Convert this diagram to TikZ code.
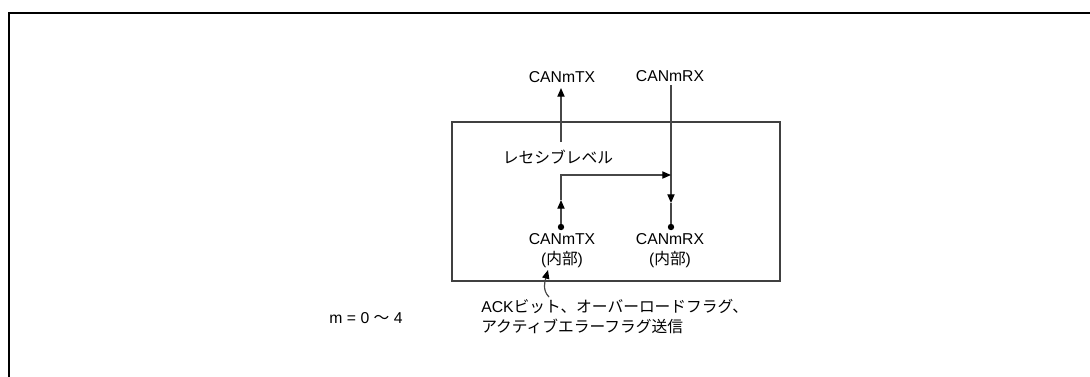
\documentclass[tikz,border=0pt]{standalone}
\usepackage{fontspec}
\setmainfont{Liberation Sans}
\newfontfamily\jp{Noto Sans CJK JP}
\usetikzlibrary{arrows.meta}
\begin{document}
\begin{tikzpicture}[x=0.75pt,y=-0.75pt,
  lbl/.style={inner sep=0pt,font=\fontsize{11.8}{15}\selectfont},
  wire/.style={draw=black!72,line width=0.9pt},
  tip/.style={-{Triangle[length=6.5pt,width=5.4pt,color=black]}},
  dotnode/.style={circle,fill=black,inner sep=0pt,minimum size=4.8pt}]
\useasboundingbox (0,0) rectangle (1090,376);
% outer frame (cropped)
\coordinate (frameBL) at (8.5,380);
\coordinate (frameTL) at (8.5,13);
\coordinate (frameTR) at (1094,13);
\draw[line width=1.5pt] (frameBL) -- (frameTL) -- (frameTR);
% inner box
\node[draw=black!75,line width=0.9pt,minimum width=246pt,minimum height=119.25pt,inner sep=0pt] (box) at (616,201.5) {};
% labels
\node[lbl] (txout) at (562,77) {CANmTX};
\node[lbl] (rxin) at (670,76) {CANmRX};
\node[lbl] (rec) at (558,157) {\jp レセシブレベル};
\node[dotnode] (txdot) at (561,227) {};
\node[dotnode] (rxdot) at (671,227) {};
\node[lbl] (txint1) at (562,239) {CANmTX};
\node[lbl] (txint2) at (562,260) {({\jp 内部})};
\node[lbl] (rxint1) at (670,239) {CANmRX};
\node[lbl] (rxint2) at (670,260) {({\jp 内部})};
\node[lbl,anchor=west,align=left] (ack) at (481,317) {ACK{\jp ビット、オーバーロードフラグ、}\\{\jp アクティブエラーフラグ送信}};
\node[lbl] (mrange) at (366,318) {m = 0 {\jp ～} 4};
% connectors
\coordinate (txtop) at (561,142);
\coordinate (txtip) at (561,88);
\draw[wire,tip] (txtop) -- (txtip);
\coordinate (rxtop) at (671,85);
\coordinate (rxmid) at (671,203);
\draw[wire,tip] (rxtop) -- (rxmid);
\draw[wire] (rxmid) -- (rxdot);
\coordinate (txmid) at (561,200);
\coordinate (corner) at (561,175);
\coordinate (joint) at (671,175);
\draw[wire,tip] (txdot) -- (txmid);
\draw[wire,tip] (txmid) -- (corner) -- (joint);
\coordinate (ackstart) at (549,297);
\coordinate (ackend) at (548,270);
\draw[wire,tip] (ackstart) .. controls (542,290) and (545,281) .. (ackend);
\end{tikzpicture}
\end{document}
